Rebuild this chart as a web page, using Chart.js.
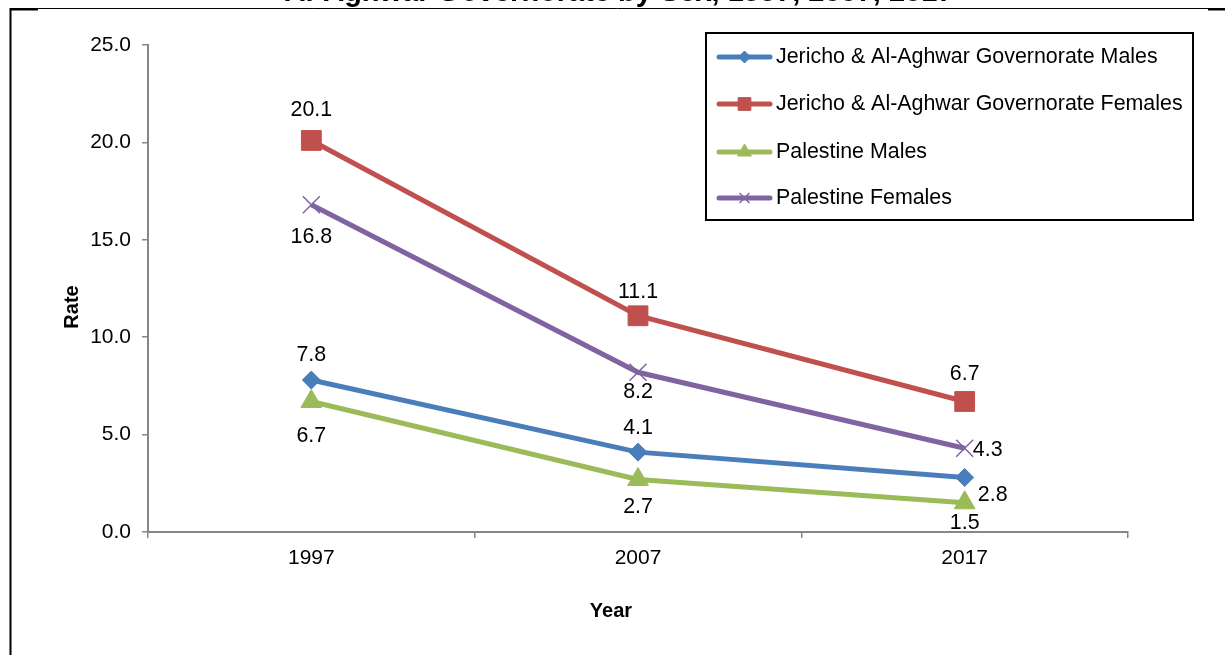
<!DOCTYPE html>
<html>
<head>
<meta charset="utf-8">
<script src="https://cdn.jsdelivr.net/npm/chart.js@4.4.1/dist/chart.umd.min.js"></script>
<style>
  html, body { margin: 0; padding: 0; background: #fff; }
  #wrap { width: 1225px; height: 655px; }
</style>
</head>
<body>
<div id="wrap"><canvas id="myChart" width="1225" height="655"></canvas></div>
<script>
// data
const years = ['1997', '2007', '2017'];
const seriesNames = [
  'Jericho & Al-Aghwar Governorate Males',
  'Jericho & Al-Aghwar Governorate Females',
  'Palestine Males',
  'Palestine Females'
];
const jaMales = [7.8, 4.1, 2.8];
const jaFemales = [20.1, 11.1, 6.7];
const palMales = [6.7, 2.7, 1.5];
const palFemales = [16.8, 8.2, 4.3];
const yTicks = [0, 5, 10, 15, 20, 25];
const titleText = 'Al-Aghwar Governorate by Sex, 1997, 2007, 2017';

// style
const FONT = '"Liberation Sans", Arial, sans-serif';
const colors = ['#4A7EBB', '#C0504D', '#9BBB59', '#8064A2'];
const pointStyles = ['rectRot', 'rect', 'triangle', 'crossRot'];
const pointSizes = [9, 14, 12, 12];
const legendSizes = [6, 9, 8, 7];
// label offsets from each point (dx, dy)
const labelSpots = [
  [[0, -25], [0, -24], [28, 18]],
  [[0, -30], [0, -24], [0, -27]],
  [[0, 35], [0, 28], [0, 20]],
  [[0, 32], [0, 20], [23, 2]]
];

const allSeries = [jaMales, jaFemales, palMales, palFemales];

const datasets = allSeries.map((vals, i) => ({
  label: seriesNames[i],
  data: vals,
  borderColor: colors[i],
  backgroundColor: colors[i],
  borderWidth: 5,
  pointStyle: pointStyles[i],
  pointRadius: pointSizes[i],
  pointHoverRadius: pointSizes[i],
  pointBorderWidth: pointStyles[i] === 'crossRot' ? 1.5 : 1,
  pointBorderColor: colors[i],
  pointBackgroundColor: colors[i],
  tension: 0,
  fill: false
}));

const decor = {
  id: 'decor',
  afterDraw(chart) {
    const ctx = chart.ctx;
    ctx.save();

    // outer frame (only top and left edges show)
    ctx.strokeStyle = '#000';
    ctx.lineWidth = 1;
    ctx.beginPath();
    ctx.moveTo(10, 8.5);
    ctx.lineTo(1225, 8.5);
    ctx.stroke();
    ctx.lineWidth = 2;
    ctx.beginPath();
    ctx.moveTo(10.5, 8);
    ctx.lineTo(10.5, 655);
    ctx.moveTo(10, 9.5);
    ctx.lineTo(38, 9.5);
    ctx.moveTo(1208, 9.5);
    ctx.lineTo(1225, 9.5);
    ctx.stroke();

    // clipped title
    ctx.fillStyle = '#000';
    ctx.font = 'bold 29px ' + FONT;
    ctx.textAlign = 'center';
    ctx.textBaseline = 'alphabetic';
    ctx.fillText(titleText, 619, 1);

    // axis titles
    ctx.font = 'bold 20px ' + FONT;
    ctx.textBaseline = 'middle';
    ctx.fillText('Year', 611, 611);
    ctx.save();
    ctx.translate(72, 307);
    ctx.rotate(-Math.PI / 2);
    ctx.fillText('Rate', 0, 0);
    ctx.restore();

    // value labels
    ctx.font = '21.4px ' + FONT;
    chart.data.datasets.forEach((ds, i) => {
      const meta = chart.getDatasetMeta(i);
      meta.data.forEach((pt, j) => {
        const [dx, dy] = labelSpots[i][j];
        ctx.fillText(ds.data[j].toFixed(1), pt.x + dx, pt.y + dy);
      });
    });

    // legend box
    ctx.strokeStyle = '#000';
    ctx.lineWidth = 2;
    ctx.strokeRect(706, 33, 487, 187);
    const rows = [57, 104, 152, 198];
    ctx.textAlign = 'left';
    chart.data.datasets.forEach((ds, i) => {
      const y = rows[i];
      ctx.strokeStyle = colors[i];
      ctx.lineWidth = 5;
      ctx.lineCap = 'round';
      ctx.beginPath();
      ctx.moveTo(719, y);
      ctx.lineTo(770, y);
      ctx.stroke();
      ctx.lineCap = 'butt';
      if (Chart.helpers && Chart.helpers.drawPoint) {
        ctx.fillStyle = colors[i];
        ctx.strokeStyle = colors[i];
        ctx.lineWidth = pointStyles[i] === 'crossRot' ? 1.5 : 1;
        Chart.helpers.drawPoint(ctx, { pointStyle: pointStyles[i], radius: legendSizes[i], rotation: 0, borderWidth: 1 }, 744.5, y);
      }
      ctx.fillStyle = '#000';
      ctx.fillText(ds.label, 776, y);
    });

    ctx.restore();
  }
};

new Chart('myChart', {
  type: 'line',
  data: { labels: years, datasets: datasets },
  options: {
    responsive: false,
    animation: false,
    events: [],
    layout: { padding: { top: 45, right: 97, bottom: 0, left: 0 } },
    plugins: {
      legend: { display: false },
      tooltip: { enabled: false },
      title: { display: false }
    },
    scales: {
      x: {
        type: 'category',
        offset: true,
        grid: { display: true, offset: true, drawOnChartArea: false, drawTicks: true, tickLength: 6, color: '#868686', lineWidth: 1.5 },
        border: { display: true, color: '#868686', width: 2 },
        ticks: { color: '#000', font: { size: 21, family: FONT }, padding: 8, maxRotation: 0 },
        afterFit: s => { s.height = 123; }
      },
      y: {
        min: 0,
        max: 25,
        afterBuildTicks: s => { s.ticks = yTicks.map(v => ({ value: v })); },
        grid: { drawOnChartArea: false, drawTicks: true, tickLength: 6, color: '#868686', lineWidth: 1.5 },
        border: { display: true, color: '#868686', width: 2 },
        ticks: { color: '#000', font: { size: 21, family: FONT }, padding: 11, callback: v => Number(v).toFixed(1) },
        afterFit: s => { s.width = 148; }
      }
    }
  },
  plugins: [decor]
});
</script>
</body>
</html>
